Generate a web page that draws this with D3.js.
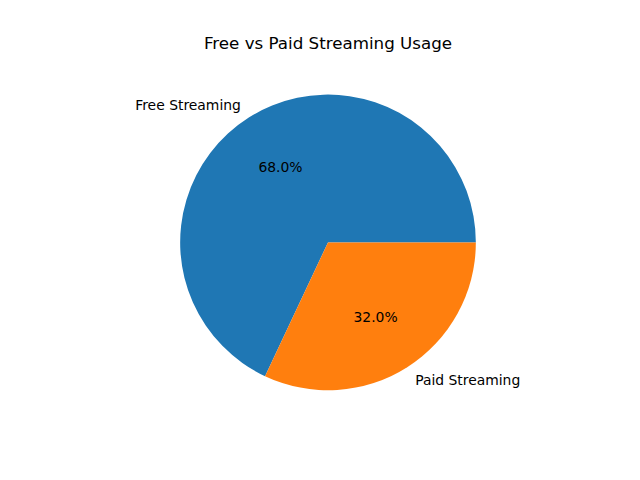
<!DOCTYPE html>
<html>
<head>
<meta charset="utf-8">
<script src="https://cdn.jsdelivr.net/npm/d3@7"></script>
<style>
  body { margin: 0; background: #fff; }
  svg { font-family: "DejaVu Sans", sans-serif; }
</style>
</head>
<body>
<svg id="chart" width="640" height="480"></svg>
<script>
const labels = ["Free Streaming", "Paid Streaming"];
const shares = [68, 32];
const colors = ["#1f77b4", "#ff7f0e"];

(function () {
    const svg = d3.select("#chart");
    const W = 640, H = 480;

    // matplotlib-like axes box: x 0.125..0.9, y 0.11..0.88, limits +-1.25
    const axTop = H * (1 - 0.88), axBottom = H * (1 - 0.11);
    const cx = W * (0.125 + 0.9) / 2;
    const cy = (axTop + axBottom) / 2;
    const r = (axBottom - axTop) / 2.5;

    svg.append("rect").attr("width", W).attr("height", H).attr("fill", "#fff");

    svg.append("text")
        .attr("x", cx).attr("y", 49)
        .attr("text-anchor", "middle")
        .attr("font-size", 16.7)
        .attr("fill", "#000")
        .text("Free vs Paid Streaming Usage");

    // start at 3 o'clock, counter-clockwise
    const pie = d3.pie().sort(null)
        .startAngle(Math.PI / 2)
        .endAngle(Math.PI / 2 - 2 * Math.PI);
    const arcs = pie(shares);

    const arc = d3.arc().innerRadius(0).outerRadius(r);
    const labelArc = d3.arc().innerRadius(r * 1.1).outerRadius(r * 1.1);
    const pctArc = d3.arc().innerRadius(r * 0.6).outerRadius(r * 0.6);

    const g = svg.append("g").attr("transform", `translate(${cx}, ${cy})`);

    g.selectAll("path.slice")
        .data(arcs)
        .join("path")
        .attr("class", "slice")
        .attr("d", arc)
        .attr("fill", (d, i) => colors[i]);

    g.selectAll("text.label")
        .data(arcs)
        .join("text")
        .attr("class", "label")
        .attr("x", d => labelArc.centroid(d)[0])
        .attr("y", d => labelArc.centroid(d)[1])
        .attr("dy", "0.35em")
        .attr("text-anchor", d => labelArc.centroid(d)[0] < 0 ? "end" : "start")
        .attr("font-size", 13.9)
        .attr("fill", "#000")
        .text((d, i) => labels[i]);

    const total = d3.sum(shares);
    g.selectAll("text.pct")
        .data(arcs)
        .join("text")
        .attr("class", "pct")
        .attr("x", d => pctArc.centroid(d)[0])
        .attr("y", d => pctArc.centroid(d)[1])
        .attr("dy", "0.35em")
        .attr("text-anchor", "middle")
        .attr("font-size", 13.9)
        .attr("fill", "#000")
        .text(d => (d.data / total * 100).toFixed(1) + "%");
})();
</script>
</body>
</html>
